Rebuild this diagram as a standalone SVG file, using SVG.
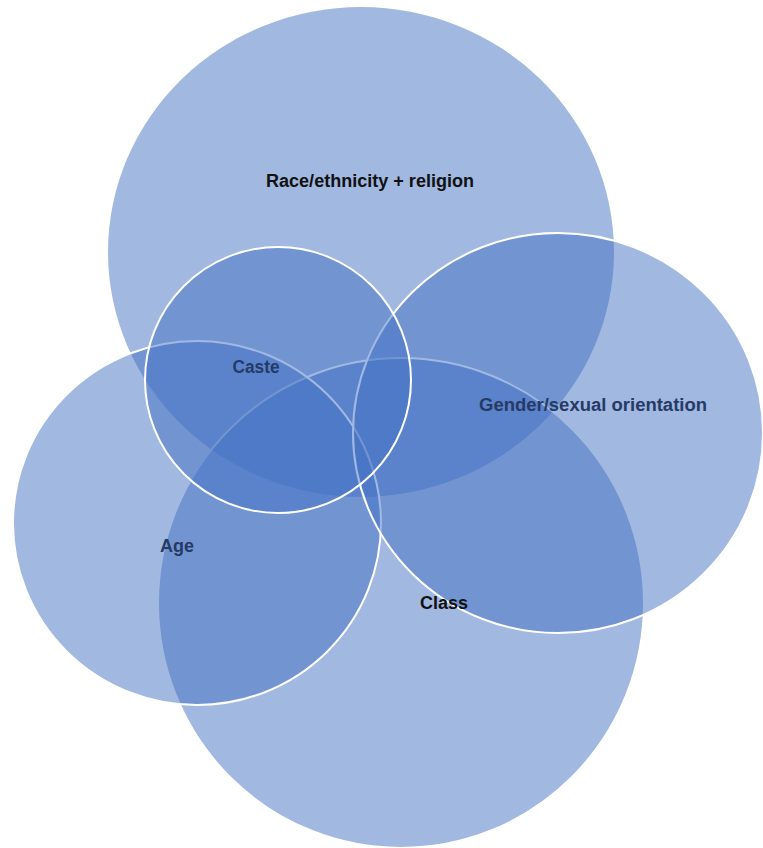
<svg xmlns="http://www.w3.org/2000/svg" width="763" height="848" viewBox="0 0 763 848">
<style>
.c{fill:#4472C4;fill-opacity:0.5;stroke:#ffffff;stroke-width:2}
.n{stroke:none}
.t{font-family:"Liberation Sans",Arial,sans-serif;font-weight:bold;font-size:18px;text-anchor:middle}
.dk{fill:#111111}
.nv{fill:#263a66}
</style>
<rect width="763" height="848" fill="#ffffff"/>
<g id="race"><ellipse class="c n" cx="361" cy="252" rx="253" ry="245"/></g>
<g id="class"><ellipse class="c" cx="401" cy="603" rx="243" ry="245"/></g>
<g id="age"><ellipse class="c" cx="197" cy="523" rx="184" ry="182"/></g>
<g id="gender"><ellipse class="c" cx="558" cy="433" rx="205" ry="200"/></g>
<g id="caste"><circle class="c" cx="278" cy="380" r="133"/></g>
<g id="connectors"></g>
<g id="labels">
<text class="t dk" x="370" y="187" textLength="208" lengthAdjust="spacingAndGlyphs">Race/ethnicity + religion</text>
<text class="t nv" x="256" y="373" textLength="47" lengthAdjust="spacingAndGlyphs">Caste</text>
<text class="t nv" x="593" y="411" textLength="228" lengthAdjust="spacingAndGlyphs">Gender/sexual orientation</text>
<text class="t nv" x="177" y="552">Age</text>
<text class="t dk" x="444" y="609">Class</text>
</g>
</svg>
